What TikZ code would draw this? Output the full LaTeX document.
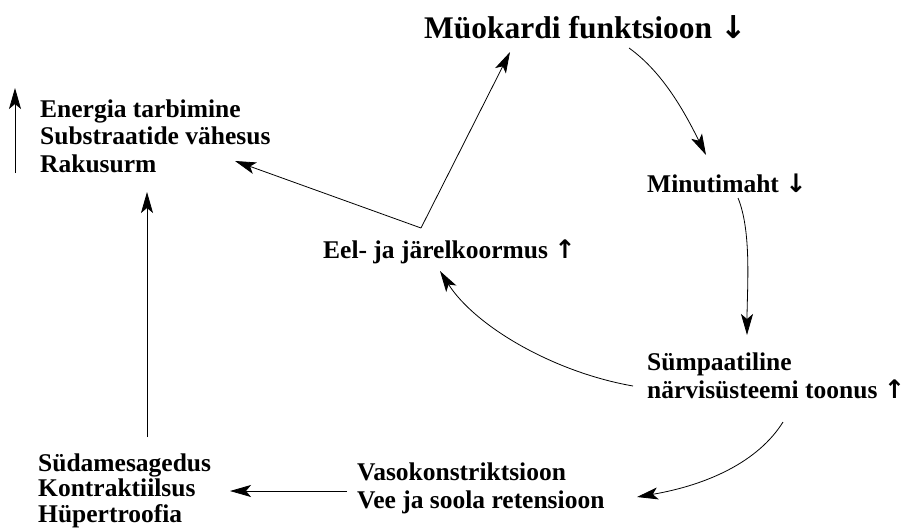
\documentclass[tikz,border=0pt]{standalone}
\usepackage{fontspec}
\setmainfont{Liberation Serif}
\newfontfamily\arrfont{DejaVu Sans}
\newcommand{\myup}{{\arrfont ↑}}
\newcommand{\mydown}{{\arrfont ↓}}
\usetikzlibrary{arrows.meta}
\begin{document}
\begin{tikzpicture}[x=1pt,y=-1pt,
  txt/.style={font=\bfseries\fontsize{25.5}{27.5}\selectfont, inner sep=0pt, align=left},
  ttl/.style={font=\bfseries\fontsize{31.5}{34}\selectfont, inner sep=0pt},
  arr/.style={-{Stealth[length=21pt,width=12pt,inset=5pt]}, line width=0.8pt}]
\useasboundingbox (0,0) rectangle (909,528);
\node[ttl, anchor=base west] (myo) at (424,38) {Müokardi funktsioon \mydown};
\node[txt, anchor=base west] (energy) at (40,172) {Energia tarbimine\\Substraatide vähesus\\Rakusurm};
\node[txt, anchor=base west] (eel) at (323,258) {Eel- ja järelkoormus \myup};
\node[txt, anchor=base west] (minut) at (647,192) {Minutimaht \mydown};
\node[txt, anchor=base west] (symp) at (647,398) {Sümpaatiline\\närvisüsteemi toonus \myup};
\node[txt, anchor=base west] (vaso) at (357,508) {Vasokonstriktsioon\\Vee ja soola retensioon};
\node[txt, font=\bfseries\fontsize{25.5}{25.5}\selectfont, anchor=base west] (syd) at (38,522) {Südamesagedus\\Kontraktiilsus\\Hüpertroofia};

\coordinate (eelS) at (421,228);
\coordinate (myoIn) at (510,52);
\coordinate (enIn) at (235,161);
\coordinate (myoOut) at (629,48);
\coordinate (minIn) at (706,155);
\coordinate (minOut) at (738,198);
\coordinate (sympIn) at (747,335);
\coordinate (sympL) at (633,386);
\coordinate (eelIn) at (440,271);
\coordinate (sympB) at (783,422);
\coordinate (vasoIn) at (637,497);
\coordinate (vasoL) at (347,491);
\coordinate (sydIn) at (230,491);
\coordinate (sydT) at (147,437);
\coordinate (enB) at (147,192);
\coordinate (upA) at (15,173);
\coordinate (upB) at (15,88);

\draw[arr] (eelS) -- (myoIn);
\draw[arr] (eelS) -- (enIn);
\draw[arr] (myoOut) .. controls (664,73) and (686,115) .. (minIn);
\draw[arr] (minOut) .. controls (752,232) and (747,290) .. (sympIn);
\draw[arr] (sympL) .. controls (553,372) and (475,326) .. (eelIn);
\draw[arr] (sympB) .. controls (758,462) and (707,485) .. (vasoIn);
\draw[arr] (vasoL) -- (sydIn);
\draw[arr] (sydT) -- (enB);
\draw[arr] (upA) -- (upB);
\end{tikzpicture}
\end{document}
